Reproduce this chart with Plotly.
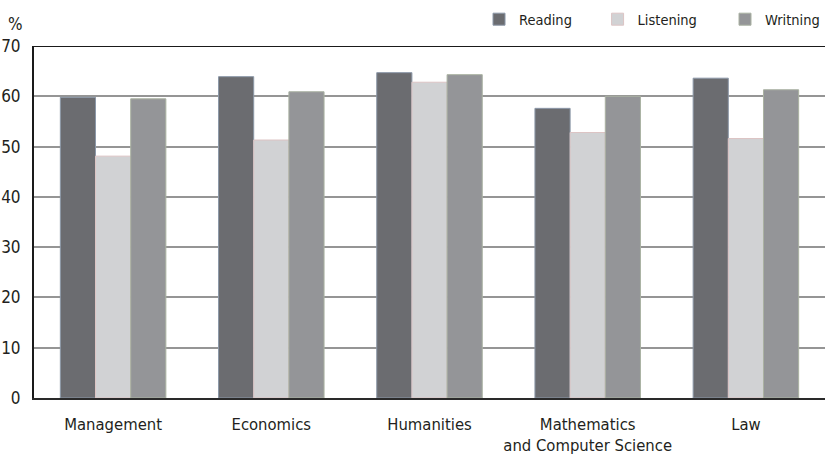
import plotly.graph_objects as go

categories = ["Management", "Economics", "Humanities",
              "Mathematics<br>and Computer Science", "Law"]
reading = [59.8, 63.9, 64.7, 57.6, 63.6]
listening = [48.1, 51.3, 62.8, 52.8, 51.6]
writing = [59.5, 60.9, 64.3, 60.0, 61.3]
y_ticks = [0, 10, 20, 30, 40, 50, 60, 70]

FONT = "Liberation Sans Narrow, DejaVu Sans Condensed, Arial Narrow, sans-serif"
TEXT = "#231f20"

fig = go.Figure()
series = [
    ("Reading", reading, "#6b6c70", "#8c98a8", "legend", 0.5626, "left"),
    ("Listening", listening, "#d1d2d4", "#dcc4c4", "legend2", 0.7125, "left"),
    ("Writning", writing, "#949598", "#aab2a2", "legend3", 1.0, "right"),
]
legend_layout = {}
for name, vals, fill, edge, legend_id, lx, anchor in series:
    fig.add_trace(go.Bar(
        x=categories, y=vals, name=name, legend=legend_id,
        marker=dict(color=fill, line=dict(color=edge, width=1)),
    ))
    legend_layout[legend_id] = dict(
        orientation="h", x=lx, xanchor=anchor, y=1.076, yanchor="middle",
        font=dict(family=FONT, size=14.5, color=TEXT),
        bgcolor="rgba(0,0,0,0)",
    )

# dark frame line along the top of the value range
fig.add_shape(type="line", xref="paper", yref="y", x0=0, x1=1, y0=70, y1=70,
              line=dict(color="#1a1a1a", width=2), layer="below")

fig.update_layout(
    width=825, height=455,
    margin=dict(l=34, r=0, t=46, b=54),
    paper_bgcolor="white", plot_bgcolor="white",
    barmode="group", bargap=0.333, bargroupgap=0,
    font=dict(family=FONT, size=16, color=TEXT),
    showlegend=True,
    xaxis=dict(range=[-0.5, 4.5], showgrid=False, showline=True,
               linecolor="#2a2a2a", linewidth=2, ticks="", ticklabelstandoff=10,
               tickfont=dict(family=FONT, size=16.5, color=TEXT)),
    yaxis=dict(range=[0, 70], tickvals=y_ticks, showgrid=True,
               gridcolor="#959595", gridwidth=2, showline=True,
               linecolor="#1a1a1a", linewidth=2, ticks="", ticklabelstandoff=8,
               zeroline=False,
               tickfont=dict(family=FONT, size=17, color=TEXT)),
    annotations=[dict(text="%", xref="paper", yref="paper", x=-0.0235, y=1.063,
                      xanchor="center", yanchor="middle", showarrow=False,
                      font=dict(family=FONT, size=17, color=TEXT))],
    **legend_layout,
)

fig.write_html("out.html")
